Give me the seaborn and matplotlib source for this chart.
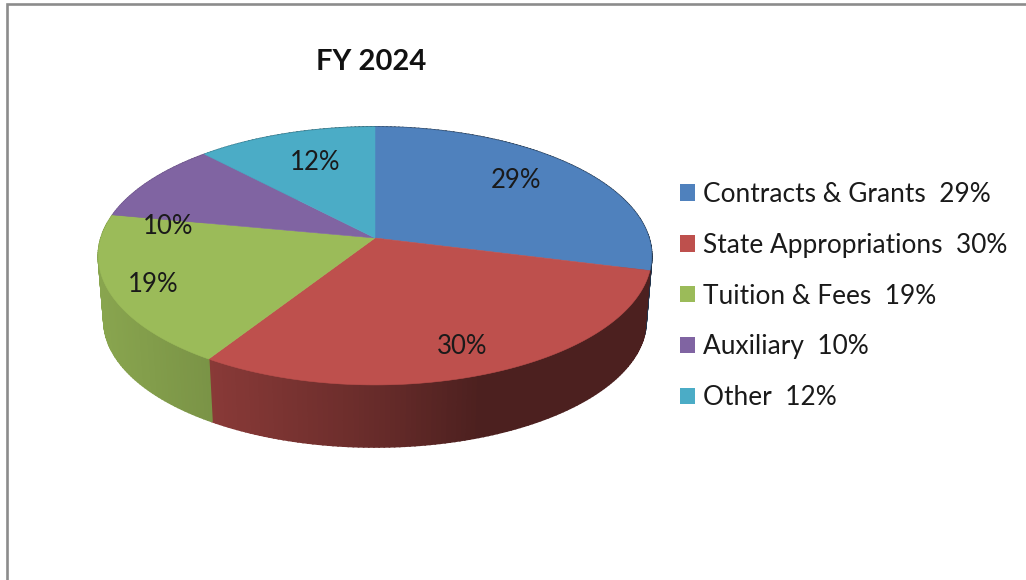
import numpy as np
import matplotlib.pyplot as plt
from matplotlib.patches import Patch
import seaborn as sns

# ==== data ====
categories = ["Contracts & Grants", "State Appropriations", "Tuition & Fees", "Auxiliary", "Other"]
shares = [29, 30, 19, 10, 12]
slice_colors = ["#4F81BD", "#BE504D", "#9BBB59", "#8064A2", "#4BACC6"]
title = "FY 2024"

# ==== pie geometry (pixel space) ====
CX, CY = 375, 238
A, B, K = 274, 126.5, 0.139
WALL_DROP, WALL_SCALE = 65, 0.98
LABEL_XY = [(516, 180), (462, 347), (153, 284), (168, 226), (315, 162)]


def project(theta, r=1.0, drop=0.0, scale=1.0):
    # theta runs clockwise from the top of the pie
    x = r * np.sin(theta)
    y = r * np.cos(theta)
    den = 1 + K * y
    return CX + scale * A * x / den, CY + drop - scale * B * y / den


def wall_shade(x):
    return np.interp(x, [100, 207, 210, 380, 480, 650], [0.88, 0.79, 0.72, 0.54, 0.40, 0.40])


sns.set_theme(style="white")
plt.rcParams["font.family"] = ["Lato", "DejaVu Sans"]
palette = sns.color_palette(slice_colors)

fig = plt.figure(figsize=(10.26, 5.8), dpi=100)
ax = fig.add_axes([0, 0, 1, 1])
ax.set_xlim(0, 1026)
ax.set_ylim(580, 0)
ax.axis("off")

# frame of the chart area
ax.plot([7, 7, 1026], [580, 4, 4], color="#8c8c8c", lw=1.9, solid_joinstyle="miter")

edges = np.cumsum([0] + shares) / sum(shares) * 2 * np.pi

# ==== side wall, drawn as thin strips so the shading can vary ====
for color, start, stop in zip(palette, edges[:-1], edges[1:]):
    thetas = np.linspace(start, stop, int((stop - start) * 60) + 2)
    for t0, t1 in zip(thetas[:-1], thetas[1:]):
        x0, y0 = project(t0)
        x1, y1 = project(t1)
        x2, y2 = project(t1, drop=WALL_DROP, scale=WALL_SCALE)
        x3, y3 = project(t0, drop=WALL_DROP, scale=WALL_SCALE)
        shade = np.array(color) * wall_shade((x0 + x1) / 2)
        ax.fill([x0, x1, x2, x3], [y0, y1, y2, y3], color=shade, lw=1.2)

# ==== top face ====
for color, start, stop in zip(palette, edges[:-1], edges[1:]):
    thetas = np.linspace(start, stop, 120)
    xs, ys = project(thetas)
    ax.fill(np.r_[CX, xs], np.r_[CY, ys], color=color, lw=0.4)

for share, (lx, ly) in zip(shares, LABEL_XY):
    ax.text(lx, ly, f"{share}%", ha="center", va="center", fontsize=18.5, color="#1a1a1a")

ax.text(371, 62, title, ha="center", va="center", fontsize=21, fontweight="bold", color="#111111")

handles = [Patch(facecolor=c, edgecolor="none") for c in palette]
labels = [f"{name}  {share}%" for name, share in zip(categories, shares)]
ax.legend(handles, labels, loc="center left", bbox_to_anchor=(680 / 1026, 1 - 296 / 580),
          frameon=False, fontsize=18.9, labelspacing=0.99, handlelength=0.59, handleheight=0.59,
          handletextpad=0.27, borderpad=0, borderaxespad=0, labelcolor="#1a1a1a")

fig.savefig("out.png", dpi=100)
plt.close(fig)
